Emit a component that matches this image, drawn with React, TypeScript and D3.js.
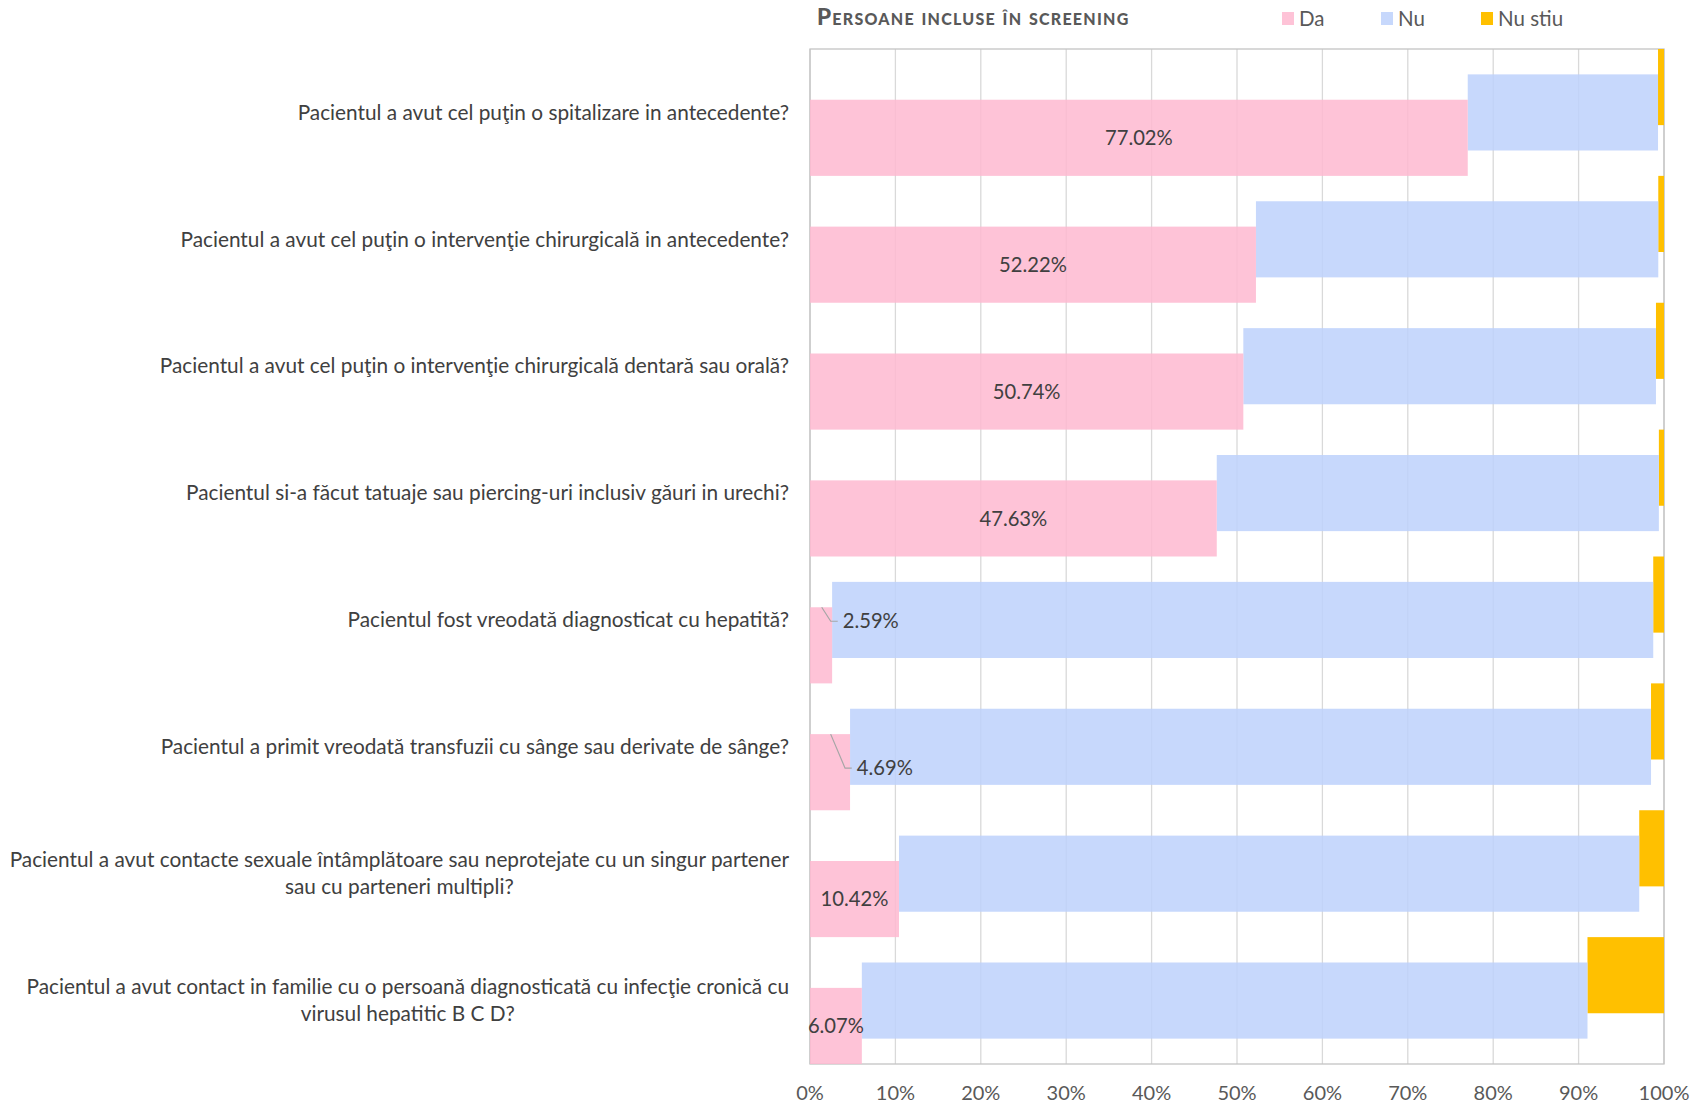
import React, { useEffect, useRef } from "react";
import * as d3 from "d3";

const title = "Persoane incluse în screening";
const categories = [
  "Pacientul a avut cel puţin o spitalizare in antecedente?",
  "Pacientul a avut cel puţin o intervenţie chirurgicală in antecedente?",
  "Pacientul a avut cel puţin o intervenţie chirurgicală dentară sau orală?",
  "Pacientul si-a făcut tatuaje sau piercing-uri inclusiv găuri in urechi?",
  "Pacientul fost vreodată diagnosticat cu hepatită?",
  "Pacientul a primit vreodată transfuzii cu sânge sau derivate de sânge?",
  "Pacientul a avut contacte sexuale întâmplătoare sau neprotejate cu un singur partener\nsau cu parteneri multipli?",
  "Pacientul a avut contact in familie cu o persoană diagnosticată cu infecţie cronică cu\nvirusul hepatitic B C D?",
];
const seriesNames = ["Da", "Nu", "Nu stiu"];
const da = [77.02, 52.22, 50.74, 47.63, 2.59, 4.69, 10.42, 6.07];
const nu = [22.28, 47.11, 48.32, 51.77, 96.15, 93.79, 86.68, 84.97];
const nuStiu = [0.7, 0.67, 0.94, 0.6, 1.26, 1.52, 2.9, 8.96];
const tickValues = [0, 10, 20, 30, 40, 50, 60, 70, 80, 90, 100];
const tickLabels = ["0%", "10%", "20%", "30%", "40%", "50%", "60%", "70%", "80%", "90%", "100%"];

const W = 1693;
const H = 1104;
const FONT = "Lato, 'Open Sans', sans-serif";
const COLORS = { da: "#FEB8D0", nu: "#BDD1FB", ns: "#FFC000" };
const LEGEND_COLORS = ["#FEC3D7", "#C7D8FC", "#FFC000"];

export default function App() {
  const ref = useRef<SVGSVGElement | null>(null);

  useEffect(() => {
    const svg = d3.select(ref.current);
    svg.selectAll("*").remove();

    const left = 810, right = 1664, top = 49, bottom = 1064;
    const x = d3.scaleLinear().domain([0, 100]).range([left, right]);
    const y = d3.scaleBand<string>().domain(categories).range([top, bottom]).padding(0);
    const bw = y.bandwidth();
    const bh = bw * 0.6;

    const g = svg.append("g");
    g.selectAll("line.grid")
      .data(tickValues)
      .join("line")
      .attr("x1", (d) => x(d))
      .attr("x2", (d) => x(d))
      .attr("y1", top)
      .attr("y2", bottom)
      .attr("stroke", "#D9D9D9")
      .attr("stroke-width", 1.3);

    g.append("rect")
      .attr("x", left)
      .attr("y", top)
      .attr("width", right - left)
      .attr("height", bottom - top)
      .attr("fill", "none")
      .attr("stroke", "#C4C4C4")
      .attr("stroke-width", 1.3);

    const rows = categories.map((c, i) => ({ c, i, da: da[i], nu: nu[i], ns: nuStiu[i] }));

    g.selectAll("rect.ns")
      .data(rows)
      .join("rect")
      .attr("x", (d) => x(d.da + d.nu))
      .attr("width", (d) => x(d.da + d.nu + d.ns) - x(d.da + d.nu))
      .attr("y", (d) => y(d.c)!)
      .attr("height", bh)
      .attr("fill", COLORS.ns);

    g.selectAll("rect.nu")
      .data(rows)
      .join("rect")
      .attr("x", (d) => x(d.da))
      .attr("width", (d) => x(d.da + d.nu) - x(d.da))
      .attr("y", (d) => y(d.c)! + bw * 0.2)
      .attr("height", bh)
      .attr("fill", COLORS.nu)
      .attr("fill-opacity", 0.85);

    g.selectAll("rect.da")
      .data(rows)
      .join("rect")
      .attr("x", x(0))
      .attr("width", (d) => x(d.da) - x(0))
      .attr("y", (d) => y(d.c)! + bw * 0.4)
      .attr("height", bh)
      .attr("fill", COLORS.da)
      .attr("fill-opacity", 0.85);

    const fmt = (v: number) => v.toFixed(2) + "%";
    const leaderIdx: Record<number, { lx0: number; lx1: number; dy: number; tx: number }> = {
      4: { lx0: -10.4, lx1: -1.4, dy: 14, tx: 10.6 },
      5: { lx0: -19.4, lx1: -5, dy: 34, tx: 6.7 },
    };
    const LBL = 20.2;
    rows.forEach((d) => {
      const pinkTop = y(d.c)! + bw * 0.4;
      const lead = leaderIdx[d.i];
      if (lead) {
        const xe = x(d.da);
        const ly = pinkTop + lead.dy;
        g.append("path")
          .attr("d", `M${xe + lead.lx0},${pinkTop} L${xe + lead.lx1},${ly} L${xe + lead.tx - 5},${ly}`)
          .attr("fill", "none")
          .attr("stroke", "#A6A6A6")
          .attr("stroke-width", 1.2);
        g.append("text")
          .attr("x", xe + lead.tx)
          .attr("y", ly)
          .attr("dy", "0.35em")
          .attr("font-family", FONT)
          .attr("font-size", LBL)
          .attr("fill", "#404040")
          .text(fmt(d.da));
      } else {
        g.append("text")
          .attr("x", (x(0) + x(d.da)) / 2)
          .attr("y", pinkTop + bh / 2)
          .attr("dy", "0.35em")
          .attr("text-anchor", "middle")
          .attr("font-family", FONT)
          .attr("font-size", LBL)
          .attr("fill", "#404040")
          .text(fmt(d.da));
      }
    });

    const labelRight = 789;
    const lineH = 27;
    rows.forEach((d) => {
      const lines = d.c.split("\n");
      const cy = y(d.c)! + bw / 2;
      const t = g
        .append("text")
        .attr("font-family", FONT)
        .attr("font-size", 20.8)
        .attr("fill", "#404040");
      const spans = lines.map((ln, k) =>
        t
          .append("tspan")
          .attr("x", labelRight)
          .attr("y", cy + (k - (lines.length - 1) / 2) * lineH)
          .attr("dy", "0.35em")
          .attr("text-anchor", "end")
          .text(ln)
      );
      if (lines.length > 1) {
        const w = (spans[0].node() as SVGTSpanElement).getComputedTextLength();
        spans.forEach((s) => s.attr("x", labelRight - w / 2).attr("text-anchor", "middle"));
      }
    });

    g.selectAll("text.tick")
      .data(tickValues)
      .join("text")
      .attr("x", (d) => x(d))
      .attr("y", 1093)
      .attr("dy", "0.35em")
      .attr("text-anchor", "middle")
      .attr("font-family", FONT)
      .attr("font-size", 20)
      .attr("fill", "#595959")
      .text((d, i) => tickLabels[i]);

    svg
      .append("text")
      .attr("x", 817)
      .attr("y", 25)
      .attr("font-family", FONT)
      .attr("font-weight", 900)
      .attr("fill", "#595959")
      .attr("font-size", 22.5)
      .attr("letter-spacing", 1.25)
      .style("font-variant", "small-caps")
      .text(title);

    const legendX = [1282, 1381, 1481];
    seriesNames.forEach((name, i) => {
      svg
        .append("rect")
        .attr("x", legendX[i])
        .attr("y", 12)
        .attr("width", 12)
        .attr("height", 13)
        .attr("fill", LEGEND_COLORS[i]);
      svg
        .append("text")
        .attr("x", legendX[i] + 17)
        .attr("y", 18.5)
        .attr("dy", "0.35em")
        .attr("font-family", FONT)
        .attr("font-size", 20.5)
        .attr("fill", "#595959")
        .text(name);
    });
  }, []);

  return (
    <svg
      ref={ref}
      width={W}
      height={H}
      style={{ position: "absolute", left: 0, top: 0, background: "#fff", display: "block" }}
    />
  );
}
